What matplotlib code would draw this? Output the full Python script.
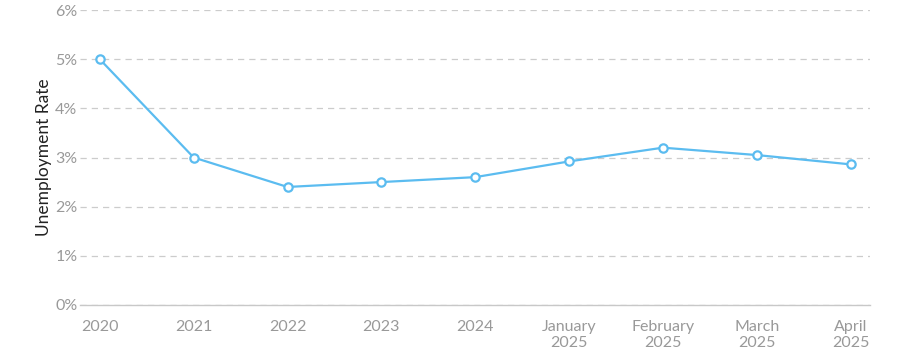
import matplotlib
matplotlib.use('Agg')
import matplotlib.pyplot as plt

# Datos
periods = ['2020', '2021', '2022', '2023', '2024',
           'January\n2025', 'February\n2025', 'March\n2025', 'April\n2025']
rates = [5.0, 3.0, 2.4, 2.5, 2.6, 2.92, 3.2, 3.05, 2.86]
y_ticks = [0, 1, 2, 3, 4, 5, 6]

plt.rcParams['font.family'] = ['Lato', 'DejaVu Sans']

fig = plt.figure(figsize=(9, 3.5), dpi=100)
ax = fig.add_axes([0.089, 0.129, 0.878, 0.842])

x = list(range(len(periods)))
ax.plot(x, rates, color='#5bbcf0', linewidth=1.6, marker='o', markersize=6,
        markerfacecolor='white', markeredgecolor='#5bbcf0', markeredgewidth=1.6,
        zorder=3)

ax.set_ylim(0, 6)
ax.set_xlim(-0.21, len(periods) - 1 + 0.21)
ax.set_yticks(y_ticks)
ax.set_yticklabels([f'{t}%' for t in y_ticks])
ax.set_xticks(x)
ax.set_xticklabels(periods)

ax.grid(axis='y', color='#cccccc', linestyle=(0, (5, 4)), linewidth=0.9)
ax.set_axisbelow(True)
for side in ['top', 'right', 'left']:
    ax.spines[side].set_visible(False)
ax.spines['bottom'].set_color('#c8c8c8')
ax.spines['bottom'].set_linewidth(1)

ax.tick_params(axis='both', length=0, labelsize=11.5, labelcolor='#999999')
ax.tick_params(axis='x', pad=11)
ax.tick_params(axis='y', pad=2)
for lbl in ax.get_xticklabels():
    lbl.set_linespacing(1.15)

ax.set_ylabel('Unemployment Rate', fontsize=12.5, color='#222222', labelpad=2)

fig.savefig('out.png', dpi=100, facecolor='white')
